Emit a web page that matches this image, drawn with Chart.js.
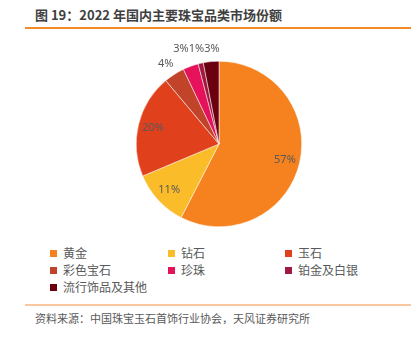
<!DOCTYPE html>
<html>
<head>
<meta charset="utf-8">
<script src="https://cdn.jsdelivr.net/npm/chart.js@4"></script>
<style>
  body { margin: 0; background: #fff; font-family: "Noto Sans CJK SC", sans-serif; }
  #page { position: relative; width: 419px; height: 346px; overflow: hidden; }
  #title { position: absolute; left: 35px; top: 5px; font-size: 13px; font-weight: bold; color: #404040; white-space: nowrap; }
  #topline { position: absolute; left: 25px; top: 27px; width: 386px; height: 2px; background: #F28C28; }
  #chartbox { position: absolute; left: 89px; top: 44px; width: 260px; height: 200px; }
  #legend { position: absolute; left: 0; top: 244px; width: 419px; height: 52px; }
  .item { position: absolute; font-size: 12px; color: #595959; white-space: nowrap; line-height: 16px; }
  .item span { display: inline-block; width: 7px; height: 7px; margin-right: 6px; vertical-align: 1px; }
  #botline { position: absolute; left: 25px; top: 304px; width: 386px; height: 2px; background: #FAC89E; }
  #source { position: absolute; left: 35px; top: 310px; font-size: 11px; color: #595959; white-space: nowrap; }
</style>
</head>
<body>
<div id="page">
  <div id="title">图 19：2022 年国内主要珠宝品类市场份额</div>
  <div id="topline"></div>
  <div id="chartbox"><canvas id="myChart"></canvas></div>
  <div id="legend"></div>
  <div id="botline"></div>
  <div id="source">资料来源：中国珠宝玉石首饰行业协会，天风证券研究所</div>
</div>
<script>
const categories = ['黄金', '钻石', '玉石', '彩色宝石', '珍珠', '铂金及白银', '流行饰品及其他'];
const shares = [57, 11, 20, 4, 3, 1, 3];
const colors = ['#F5821F', '#FBBC2A', '#E0401C', '#C0432A', '#E5115A', '#A0193F', '#6B0010'];

// legend in three columns, like the report
const legend = document.getElementById('legend');
const colX = [50, 168, 285];
const rowY = [1, 18, 35];
categories.forEach((name, i) => {
  const d = document.createElement('div');
  d.className = 'item';
  d.style.left = colX[i % 3] + 'px';
  d.style.top = rowY[Math.floor(i / 3)] + 'px';
  d.innerHTML = '<span style="background:' + colors[i] + '"></span>' + name;
  legend.appendChild(d);
});

// percent labels: big slices inside, small ones outside (pushed apart so they don't overlap)
const pctLabels = {
  id: 'pctLabels',
  afterDatasetsDraw(chart) {
    const ctx = chart.ctx;
    const meta = chart.getDatasetMeta(0);
    ctx.save();
    ctx.font = '11px "Liberation Sans Narrow", "Noto Sans", sans-serif';
    ctx.fillStyle = '#595959';
    ctx.textAlign = 'center';
    ctx.textBaseline = 'middle';
    const pos = meta.data.map((arc, i) => {
      const p = arc.getProps(['x', 'y', 'startAngle', 'endAngle', 'outerRadius'], true);
      const mid = (p.startAngle + p.endAngle) / 2;
      const inside = shares[i] >= 10;
      const r = inside ? p.outerRadius * 0.82 : p.outerRadius + 13;
      return { x: p.x + Math.cos(mid) * r, y: p.y + Math.sin(mid) * r, inside: inside };
    });
    // walk the small outside labels from the last one back, keep a gap
    const last = pos.length - 1;
    pos[last].x += 2;
    for (let i = last - 1; i >= 0; i--) {
      if (pos[i].inside || pos[i + 1].inside) continue;
      const w = (ctx.measureText(shares[i] + '%').width + ctx.measureText(shares[i + 1] + '%').width) / 2;
      if (pos[i].x > pos[i + 1].x - w) pos[i].x = pos[i + 1].x - w;
      if (i >= last - 2) pos[i].y = pos[i + 1].y;
    }
    pos.forEach((q, i) => ctx.fillText(shares[i] + '%', q.x, q.y));
    ctx.restore();
  }
};

new Chart(document.getElementById('myChart'), {
  type: 'pie',
  data: {
    labels: categories,
    datasets: [{
      data: shares,
      backgroundColor: colors,
      borderColor: '#ffffff',
      borderWidth: 0.5
    }]
  },
  options: {
    responsive: true,
    maintainAspectRatio: false,
    animation: false,
    layout: { padding: { top: 17, bottom: 17 } },
    plugins: {
      legend: { display: false },
      tooltip: { enabled: false }
    }
  },
  plugins: [pctLabels]
});
</script>
</body>
</html>
